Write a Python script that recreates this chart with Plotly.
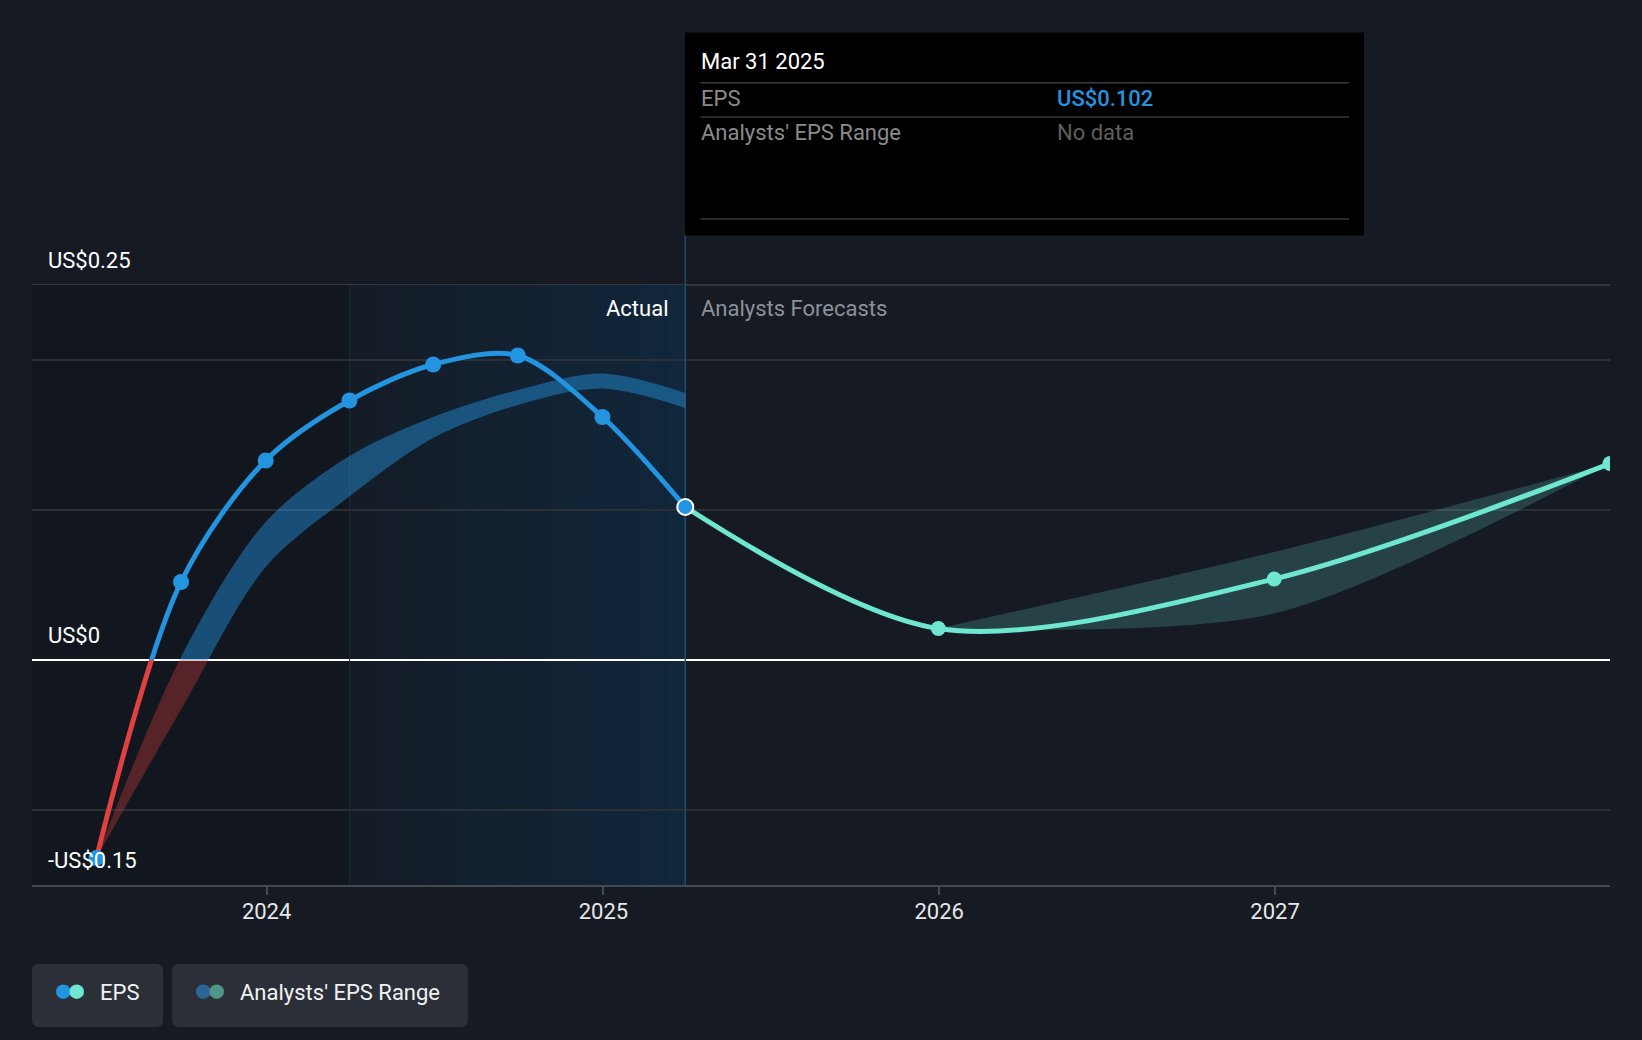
import plotly.graph_objects as go
import pandas as pd

# ---------------- data ----------------
actual_dates = ["2023-06-30", "2023-09-30", "2023-12-31", "2024-03-31",
                "2024-06-30", "2024-09-30", "2024-12-31", "2025-03-31"]
actual_eps = [-0.132, 0.052, 0.133, 0.173, 0.197, 0.203, 0.162, 0.102]
past_range_low = [-0.132, -0.033, 0.062, 0.109, 0.148, 0.170, 0.181, 0.168]
past_range_high = [-0.132, 0.002, 0.092, 0.136, 0.162, 0.180, 0.191, 0.178]

forecast_dates = ["2025-03-31", "2025-12-31", "2026-12-31", "2027-12-31"]
forecast_eps = [0.102, 0.021, 0.054, 0.131]
forecast_range_dates = ["2025-12-31", "2026-12-31", "2027-12-31"]
forecast_range_low = [0.021, 0.031, 0.131]
forecast_range_high = [0.021, 0.072, 0.131]

x_tick_vals = ["2024-01-01", "2025-01-01", "2026-01-01", "2027-01-01"]
x_tick_text = ["2024", "2025", "2026", "2027"]
y_grid_vals = [-0.1, 0, 0.1, 0.2]
y_labels = [(0.25, "US$0.25"), (0, "US$0"), (-0.15, "-US$0.15")]
actual_window_start = "2024-03-31"

# ---------------- style ----------------
W, H = 1642, 1040
PL, PR, PT, PB = 32, 1610, 235, 885
X_RANGE = ["2023-04-21", "2027-12-31"]
Y_MIN, Y_TOP_LINE = -0.15, 0.25
Y_MAX = Y_TOP_LINE + (285 - PT) / ((PB - 285) / (Y_TOP_LINE - Y_MIN))
D0 = (0 - Y_MIN) / (Y_MAX - Y_MIN)

BG = "#151a23"
BLUE = "#2394df"
RED = "#e0403e"
TEAL = "#6ee6d0"
FONT = "Roboto, sans-serif"
FS = 22
LW = 5
MS = 16


def px(x):
    return (x - PL) / (PR - PL)


def py(y):
    return (PB - y) / (PB - PT)


fig = go.Figure()

# forecast band + line (main subplot)
fig.add_trace(go.Scatter(x=forecast_range_dates, y=forecast_range_low, mode="lines",
                         line=dict(width=0, shape="spline", smoothing=0.8),
                         hoverinfo="skip", showlegend=False))
fig.add_trace(go.Scatter(x=forecast_range_dates, y=forecast_range_high, mode="lines",
                         line=dict(width=0, shape="spline", smoothing=0.8),
                         fill="tonexty", fillcolor="rgba(110,230,208,0.2)",
                         hoverinfo="skip", showlegend=False))
fig.add_trace(go.Scatter(x=forecast_dates, y=forecast_eps, mode="lines",
                         line=dict(color=TEAL, width=LW, shape="spline", smoothing=0.9),
                         hoverinfo="skip", showlegend=False))
fig.add_trace(go.Scatter(x=forecast_dates[1:], y=forecast_eps[1:], mode="markers",
                         marker=dict(color=TEAL, size=MS - 1),
                         hoverinfo="skip", showlegend=False))

neg_dates = [d for d, v in zip(actual_dates[:-1], actual_eps[:-1]) if v < 0]
neg_vals = [v for v in actual_eps[:-1] if v < 0]
pos_dates = [d for d, v in zip(actual_dates[:-1], actual_eps[:-1]) if v >= 0]
pos_vals = [v for v in actual_eps[:-1] if v >= 0]

# below-zero (red) part: subplot y2 clipped to negative values
fig.add_trace(go.Scatter(x=actual_dates, y=past_range_low, mode="lines", yaxis="y2",
                         line=dict(width=0, shape="spline", smoothing=0.9),
                         hoverinfo="skip", showlegend=False))
fig.add_trace(go.Scatter(x=actual_dates, y=past_range_high, mode="lines", yaxis="y2",
                         line=dict(width=0, shape="spline", smoothing=0.9),
                         fill="tonexty", fillcolor="rgba(224,64,62,0.33)",
                         hoverinfo="skip", showlegend=False))
fig.add_trace(go.Scatter(x=actual_dates, y=actual_eps, mode="lines", yaxis="y2",
                         line=dict(color=RED, width=LW, shape="spline", smoothing=0.9),
                         hoverinfo="skip", showlegend=False))
fig.add_trace(go.Scatter(x=neg_dates, y=neg_vals, mode="markers", yaxis="y2",
                         marker=dict(color=BLUE, size=MS), cliponaxis=False,
                         hoverinfo="skip", showlegend=False))

# above-zero (blue) part: subplot y3 clipped to positive values
fig.add_trace(go.Scatter(x=actual_dates, y=past_range_low, mode="lines", yaxis="y3",
                         line=dict(width=0, shape="spline", smoothing=0.9),
                         hoverinfo="skip", showlegend=False))
fig.add_trace(go.Scatter(x=actual_dates, y=past_range_high, mode="lines", yaxis="y3",
                         line=dict(width=0, shape="spline", smoothing=0.9),
                         fill="tonexty", fillcolor="rgba(35,148,223,0.45)",
                         hoverinfo="skip", showlegend=False))
fig.add_trace(go.Scatter(x=actual_dates, y=actual_eps, mode="lines", yaxis="y3",
                         line=dict(color=BLUE, width=LW, shape="spline", smoothing=0.9),
                         hoverinfo="skip", showlegend=False))
fig.add_trace(go.Scatter(x=pos_dates, y=pos_vals, mode="markers", yaxis="y3",
                         marker=dict(color=BLUE, size=MS), cliponaxis=False,
                         hoverinfo="skip", showlegend=False))
fig.add_trace(go.Scatter(x=actual_dates[-1:], y=actual_eps[-1:], mode="markers", yaxis="y3",
                         marker=dict(color=BLUE, size=MS, line=dict(color="white", width=2)),
                         cliponaxis=False, hoverinfo="skip", showlegend=False))

shapes = []
# darker region left of the actual window
shapes.append(dict(type="rect", xref="x", yref="y", x0=X_RANGE[0], x1=actual_window_start,
                   y0=Y_MIN, y1=Y_TOP_LINE, fillcolor="#12171f", line=dict(width=0),
                   layer="below"))
# gradient for the actual window
edges = pd.date_range(pd.Timestamp(actual_window_start), pd.Timestamp(actual_dates[-1]), periods=81)
c0, c1 = (20, 28, 38), (17, 39, 60)
for i in range(len(edges) - 1):
    t = i / (len(edges) - 2)
    col = "rgb(%d,%d,%d)" % tuple(round(a + (b - a) * t) for a, b in zip(c0, c1))
    shapes.append(dict(type="rect", xref="x", yref="y", x0=edges[i], x1=edges[i + 1] + pd.Timedelta(hours=12),
                       y0=Y_MIN, y1=Y_TOP_LINE, fillcolor=col, line=dict(width=0), layer="below"))
# window borders
shapes.append(dict(type="line", xref="x", yref="y", x0=actual_window_start, x1=actual_window_start,
                   y0=Y_MIN, y1=Y_TOP_LINE, line=dict(color="#1a2b3c", width=1), layer="between"))
shapes.append(dict(type="line", xref="x", yref="y", x0=actual_dates[-1], x1=actual_dates[-1],
                   y0=Y_MIN, y1=Y_MAX, line=dict(color="#1f4c6e", width=1.5), layer="between"))
# top line at 0.25
shapes.append(dict(type="line", xref="paper", yref="y", x0=0, x1=1, y0=Y_TOP_LINE, y1=Y_TOP_LINE,
                   line=dict(color="#3c424b", width=1.5), layer="between"))

# tooltip box
shapes.append(dict(type="rect", xref="paper", yref="paper", x0=px(685), x1=px(1364),
                   y0=py(235.5), y1=py(32.5), fillcolor="#000000", line=dict(width=0), layer="above"))
for yy in (82.7, 117, 219):
    shapes.append(dict(type="line", xref="paper", yref="paper", x0=px(700.5), x1=px(1349),
                       y0=py(yy), y1=py(yy), line=dict(color="#3a3a3a", width=1.5), layer="above"))


def rrect(x0, y0, x1, y1, r):
    X0, X1 = px(x0), px(x1)
    Y0, Y1 = py(y0), py(y1)
    rx = r / (PR - PL)
    ry = r / (PB - PT)
    return (f"M {X0+rx} {Y0} L {X1-rx} {Y0} Q {X1} {Y0} {X1} {Y0-ry} "
            f"L {X1} {Y1+ry} Q {X1} {Y1} {X1-rx} {Y1} L {X0+rx} {Y1} "
            f"Q {X0} {Y1} {X0} {Y1+ry} L {X0} {Y0-ry} Q {X0} {Y0} {X0+rx} {Y0} Z")


legend_boxes = [(32, 163), (172, 468)]
for a, b in legend_boxes:
    shapes.append(dict(type="path", xref="paper", yref="paper", path=rrect(a, 964, b, 1027, 7),
                       fillcolor="#2b2f38", line=dict(width=0), layer="above"))

legend_dots = [(63.3, BLUE), (76.7, TEAL), (203.3, "#2a6596"), (216.7, "#4f9488")]
for cx, col in legend_dots:
    r = 7.3
    shapes.append(dict(type="circle", xref="paper", yref="paper", x0=px(cx - r), x1=px(cx + r),
                       y0=py(991.7 + r), y1=py(991.7 - r), fillcolor=col, line=dict(width=0),
                       layer="above"))

annotations = []


def txt(text, x, y, color, size=FS, anchor="left", weight=None):
    f = dict(family=FONT, size=size, color=color)
    if weight:
        f["weight"] = weight
    annotations.append(dict(text=text, xref="paper", yref="paper", x=px(x), y=py(y),
                            xanchor=anchor, yanchor="middle", showarrow=False, font=f))


for val, lab in y_labels:
    ypx = PB - (val - Y_MIN) * (PB - 285) / (Y_TOP_LINE - Y_MIN)
    txt(lab, 46, ypx - 24.5 if val != Y_MIN else ypx - 25, "#ffffff")

txt("Actual", 671, 308, "#ffffff", anchor="right")
txt("Analysts Forecasts", 698.5, 308, "#8c9199")

txt(pd.Timestamp(actual_dates[-1]).strftime("%b %d %Y"), 698.5, 62, "#ffffff")
txt("EPS", 698.5, 98.5, "#8b8b8b")
txt(f"US${actual_eps[-1]:.3f}", 1054.5, 98.5, BLUE, weight=500)
txt("Analysts' EPS Range", 698.5, 132, "#8b8b8b")
txt("No data", 1054.5, 132, "#5f5f5f")

txt("EPS", 98, 992, "#f2f2f2")
txt("Analysts' EPS Range", 237.5, 992, "#f2f2f2")

fig.update_layout(
    width=W, height=H,
    margin=dict(l=PL, r=W - PR, t=PT, b=H - PB, pad=0),
    paper_bgcolor=BG, plot_bgcolor="rgba(0,0,0,0)",
    font=dict(family=FONT, color="#ffffff"),
    showlegend=False,
    hovermode=False,
    shapes=shapes,
    annotations=annotations,
    xaxis=dict(type="date", range=X_RANGE, anchor="y", showgrid=False, zeroline=False,
               showline=True, linecolor="#444a53", linewidth=2,
               ticks="outside", ticklen=8, tickwidth=2, tickcolor="#444a53",
               tickvals=x_tick_vals, ticktext=x_tick_text,
               tickfont=dict(family=FONT, size=FS, color="#e8e8e8"), ticklabelstandoff=-2),
    yaxis=dict(domain=[0, 1], range=[Y_MIN, Y_MAX], tickvals=y_grid_vals, showticklabels=False,
               showgrid=True, gridcolor="#2b3038", gridwidth=1.5,
               zeroline=True, zerolinecolor="#ffffff", zerolinewidth=2, showline=False, ticks=""),
    yaxis2=dict(domain=[0, D0], range=[Y_MIN, 0], anchor="x", visible=False,
                showgrid=False, zeroline=False),
    yaxis3=dict(domain=[D0, 1], range=[0, Y_MAX], anchor="x", visible=False,
                showgrid=False, zeroline=False),
)

fig.write_html("out.html", config={"displayModeBar": False},
               post_script="document.body.style.margin='0';document.body.style.background='%s';" % BG)
